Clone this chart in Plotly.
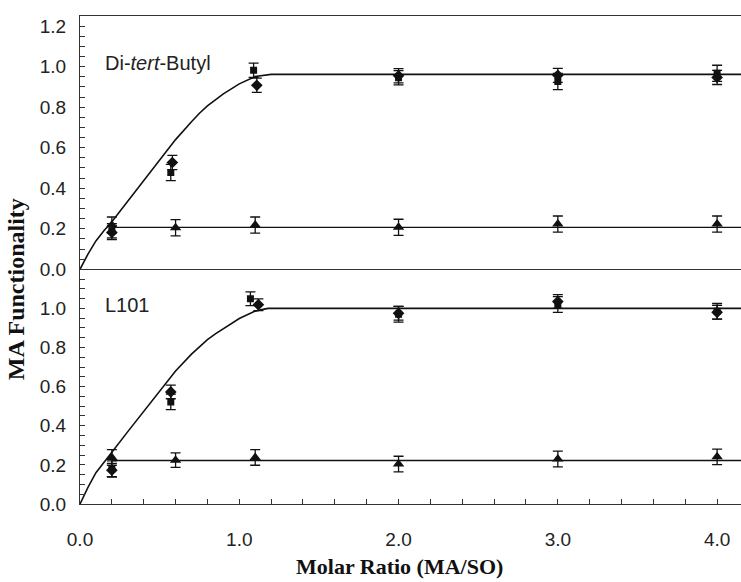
import plotly.graph_objects as go

# ---------------- data ----------------
# Top panel (Di-tert-Butyl)
TOP_SQ_X = [0.2, 0.57, 1.09, 2.0, 3.0, 4.0]
TOP_SQ_Y = [0.19, 0.478, 0.982, 0.945, 0.927, 0.967]
TOP_DI_X = [0.2, 0.58, 1.11, 2.0, 3.0, 4.0]
TOP_DI_Y = [0.182, 0.527, 0.908, 0.955, 0.957, 0.947]
TOP_TR_X = [0.2, 0.6, 1.1, 2.0, 3.0, 4.0]
TOP_TR_Y = [0.218, 0.205, 0.218, 0.207, 0.223, 0.223]
TOP_ERR_SQ = [0.035, 0.04, 0.035, 0.035, 0.04, 0.04]
TOP_ERR_DI = [0.035, 0.035, 0.035, 0.035, 0.035, 0.035]
TOP_ERR_TR = [0.04, 0.04, 0.04, 0.04, 0.04, 0.04]
TOP_FIT_X = [0, 0.05, 0.1, 0.15, 0.2, 0.3, 0.4, 0.5, 0.6, 0.7, 0.75, 0.8, 0.85, 0.9, 1.0, 1.1, 1.2, 4.15]
TOP_FIT_Y = [0, 0.075, 0.14, 0.19, 0.234, 0.335, 0.435, 0.535, 0.64, 0.728, 0.77, 0.806, 0.838, 0.866, 0.915, 0.951, 0.962, 0.962]
TOP_FLAT_X = [0.2, 4.15]
TOP_FLAT_Y = [0.207, 0.207]

# Bottom panel (L101)
BOT_SQ_X = [0.2, 0.57, 1.07, 2.0, 3.0, 4.0]
BOT_SQ_Y = [0.18, 0.522, 1.049, 0.97, 1.02, 0.985]
BOT_DI_X = [0.2, 0.57, 1.12, 2.0, 3.0, 4.0]
BOT_DI_Y = [0.173, 0.573, 1.019, 0.975, 1.035, 0.98]
BOT_TR_X = [0.2, 0.6, 1.1, 2.0, 3.0, 4.0]
BOT_TR_Y = [0.238, 0.224, 0.238, 0.204, 0.23, 0.241]
BOT_ERR_SQ = [0.04, 0.04, 0.035, 0.04, 0.04, 0.04]
BOT_ERR_DI = [0.035, 0.035, 0.03, 0.035, 0.035, 0.035]
BOT_ERR_TR = [0.04, 0.037, 0.04, 0.04, 0.04, 0.04]
BOT_FIT_X = [0, 0.05, 0.1, 0.15, 0.2, 0.3, 0.4, 0.5, 0.6, 0.7, 0.75, 0.8, 0.85, 0.9, 1.0, 1.1, 1.18, 4.15]
BOT_FIT_Y = [0, 0.085, 0.16, 0.215, 0.264, 0.37, 0.474, 0.58, 0.68, 0.766, 0.805, 0.84, 0.87, 0.897, 0.948, 0.986, 1.0, 1.0]
BOT_FLAT_X = [0.2, 4.15]
BOT_FLAT_Y = [0.222, 0.222]

X_TICKS = [0.0, 1.0, 2.0, 3.0, 4.0]
TOP_Y_TICKS = [0.0, 0.2, 0.4, 0.6, 0.8, 1.0, 1.2]
BOT_Y_TICKS = [0.0, 0.2, 0.4, 0.6, 0.8, 1.0]

INK = "#111111"
TICK_FONT = dict(family="Liberation Sans, Arial, sans-serif", size=19, color="#222222")

fig = go.Figure()


def err(vals):
    return dict(type="data", array=vals, visible=True, color=INK, thickness=1.3, width=5)


def add_panel(xa, ya, fitx, fity, flatx, flaty, sqx, sqy, sqe, dix, diy, die, trx, try_, tre):
    fig.add_trace(go.Scatter(x=fitx, y=fity, mode="lines", xaxis=xa, yaxis=ya,
                             line=dict(color=INK, width=1.6),
                             showlegend=False, hoverinfo="skip"))
    fig.add_trace(go.Scatter(x=flatx, y=flaty, mode="lines", xaxis=xa, yaxis=ya,
                             line=dict(color=INK, width=1.4), showlegend=False, hoverinfo="skip"))
    fig.add_trace(go.Scatter(x=sqx, y=sqy, mode="markers", xaxis=xa, yaxis=ya, error_y=err(sqe),
                             marker=dict(symbol="square", size=7, color=INK), showlegend=False))
    fig.add_trace(go.Scatter(x=dix, y=diy, mode="markers", xaxis=xa, yaxis=ya, error_y=err(die),
                             marker=dict(symbol="diamond", size=9, color=INK), showlegend=False))
    fig.add_trace(go.Scatter(x=trx, y=try_, mode="markers", xaxis=xa, yaxis=ya, error_y=err(tre),
                             marker=dict(symbol="triangle-up", size=10, color=INK), showlegend=False))


add_panel("x2", "y2", TOP_FIT_X, TOP_FIT_Y, TOP_FLAT_X, TOP_FLAT_Y,
          TOP_SQ_X, TOP_SQ_Y, TOP_ERR_SQ, TOP_DI_X, TOP_DI_Y, TOP_ERR_DI,
          TOP_TR_X, TOP_TR_Y, TOP_ERR_TR)
add_panel("x", "y", BOT_FIT_X, BOT_FIT_Y, BOT_FLAT_X, BOT_FLAT_Y,
          BOT_SQ_X, BOT_SQ_Y, BOT_ERR_SQ, BOT_DI_X, BOT_DI_Y, BOT_ERR_DI,
          BOT_TR_X, BOT_TR_Y, BOT_ERR_TR)

XR = [0, 4.15]
SPLIT = 0.481
LINE_C = "#333333"

yaxis_common = dict(showline=True, linecolor=LINE_C, linewidth=1.3, ticks="inside", ticklen=5,
                    tickcolor=LINE_C, tickwidth=1, tickfont=TICK_FONT, tickformat=".1f",
                    showgrid=False, zeroline=False, ticklabelstandoff=9,
                    minor=dict(dtick=0.05, ticks="inside", ticklen=5, tickcolor=LINE_C, showgrid=False))

fig.update_layout(
    width=741, height=582,
    margin=dict(l=80, r=0, t=16, b=78),
    paper_bgcolor="white", plot_bgcolor="white",
    xaxis=dict(domain=[0, 1], range=XR, anchor="y", showline=True, linecolor=LINE_C, linewidth=1.3,
               ticks="inside", ticklen=5, tickcolor=LINE_C, tickvals=X_TICKS, tickformat=".1f",
               tickfont=TICK_FONT, showgrid=False, zeroline=False, ticklabelstandoff=18,
               minor=dict(dtick=0.2, ticks="inside", ticklen=5, tickcolor=LINE_C, showgrid=False)),
    xaxis2=dict(domain=[0, 1], range=XR, anchor="y2", matches="x", showline=True, mirror=True,
                linecolor=LINE_C, linewidth=1.3, ticks="", showticklabels=False,
                showgrid=False, zeroline=False),
    yaxis=dict(domain=[0, SPLIT], range=[0, 1.2], anchor="x", tickvals=BOT_Y_TICKS, **yaxis_common),
    yaxis2=dict(domain=[SPLIT, 1], range=[0, 1.25], anchor="x2", tickvals=TOP_Y_TICKS, **yaxis_common),
)

fig.add_annotation(x=0.142, y=1.016, xref="x2", yref="y2", text="Di-<i>tert</i>-Butyl",
                   showarrow=False, xanchor="left", yanchor="middle",
                   font=dict(family="Liberation Sans, Arial, sans-serif", size=20, color="#222222"))
fig.add_annotation(x=0.142, y=1.015, xref="x", yref="y", text="L101",
                   showarrow=False, xanchor="left", yanchor="middle",
                   font=dict(family="Liberation Sans, Arial, sans-serif", size=20, color="#222222"))

fig.add_annotation(x=-0.097, y=0.44, xref="paper", yref="paper", text="<b>MA Functionality</b>",
                   textangle=-90, showarrow=False, xanchor="center", yanchor="middle",
                   font=dict(family="Liberation Serif, Times New Roman, serif", size=24, color="#111111"))
fig.add_annotation(x=0.484, y=-0.128, xref="paper", yref="paper", text="<b>Molar Ratio (MA/SO)</b>",
                   showarrow=False, xanchor="center", yanchor="middle",
                   font=dict(family="Liberation Serif, Times New Roman, serif", size=22, color="#111111"))

fig.write_html("out.html")
